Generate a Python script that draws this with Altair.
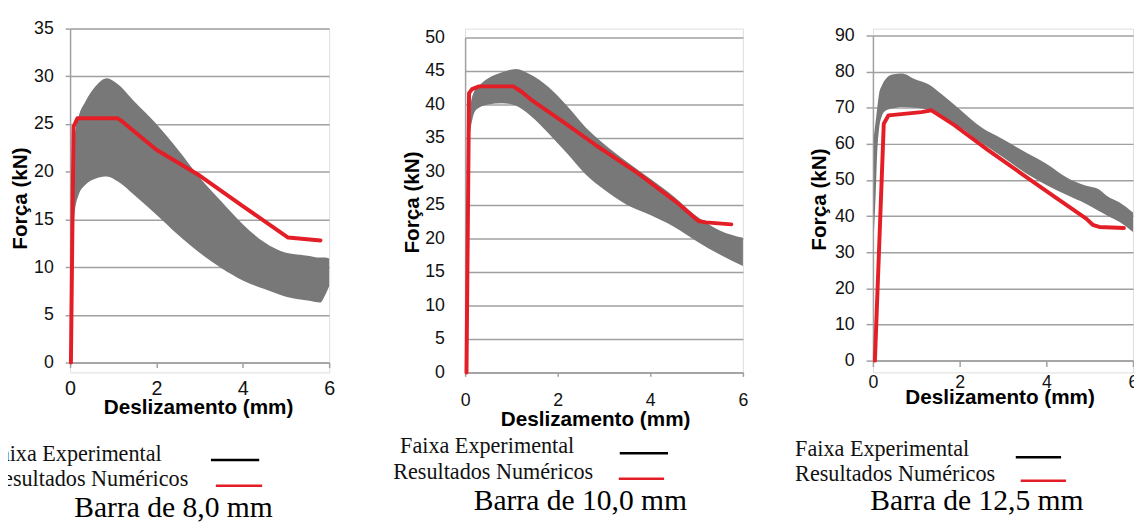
import altair as alt
import pandas as pd

# ---------------- data ----------------
x_ticks = [0, 2, 4, 6]
y_title = "Força (kN)"
x_title = "Deslizamento (mm)"
legend_labels = ["Faixa Experimental", "Resultados Numéricos"]
panel_titles = ["Barra de 8,0 mm", "Barra de 10,0 mm", "Barra de 12,5 mm"]
y_max = [35, 50, 90]
y_step = [5, 5, 10]

# Barra 8,0 mm
band1_x = [0.02, 0.05, 0.1, 0.2, 0.35, 0.6, 0.85, 1.1, 1.5, 2.0, 2.5, 3.0, 3.5, 4.0, 4.5, 5.0, 5.5, 5.8, 5.9, 6.0]
band1_lo = [3, 8, 15.5, 17.6, 18.6, 19.3, 19.5, 19.0, 17.5, 15.5, 13.4, 11.5, 9.9, 8.6, 7.7, 6.9, 6.5, 6.3, 7.0, 8.0]
band1_hi = [8, 18, 23.5, 25.8, 27.3, 29.0, 29.8, 29.2, 27.3, 25.0, 22.3, 19.4, 16.9, 14.5, 12.6, 11.5, 11.2, 11.0, 11.0, 10.9]
num1_x = [0.02, 0.08, 0.17, 1.1, 1.2, 2.0, 3.0, 4.0, 5.05, 5.8]
num1_y = [0, 24.7, 25.6, 25.6, 25.3, 22.3, 19.6, 16.4, 13.1, 12.8]

# Barra 10,0 mm
band2_x = [0.08, 0.12, 0.2, 0.3, 0.5, 0.8, 1.1, 1.4, 1.8, 2.2, 2.6, 3.0, 3.5, 4.0, 4.5, 5.0, 5.5, 6.0]
band2_lo = [35, 36.5, 38.8, 39.5, 40.0, 40.2, 39.8, 38.4, 35.7, 32.7, 29.6, 27.3, 25.0, 23.5, 21.8, 19.6, 17.6, 15.9]
band2_hi = [36, 40, 42, 42.8, 43.9, 44.8, 45.3, 44.5, 42.6, 39.8, 36.6, 34.1, 31.4, 28.9, 26.3, 23.3, 21.2, 20.1]
num2_x = [0.03, 0.085, 0.15, 0.3, 1.04, 1.22, 1.43, 2.14, 2.85, 3.7, 4.55, 5.04, 5.2, 5.75]
num2_y = [0, 41.7, 42.3, 42.7, 42.7, 41.9, 40.7, 37.3, 33.8, 29.9, 25.5, 22.6, 22.4, 22.1]

# Barra 12,5 mm
band3_x = [0.02, 0.06, 0.1, 0.14, 0.2, 0.29, 0.45, 0.67, 0.97, 1.28, 1.58, 2.0, 2.5, 3.0, 3.5, 4.0, 4.5, 4.9, 5.2, 5.4, 5.7, 6.0]
band3_lo = [35, 45, 58, 64, 67.5, 69.2, 69.8, 70.2, 70.0, 69.4, 67.2, 64.7, 60.3, 56.3, 52.1, 48.6, 45.7, 43.5, 41.5, 40.2, 38.3, 35.6]
band3_hi = [62, 66, 70, 73.8, 76, 77.9, 79.2, 79.5, 77.9, 76.5, 73.8, 69.6, 64.6, 61.3, 57.8, 54.5, 50.5, 48.5, 47.5, 45.6, 43.7, 41.0]
num3_x = [0.045, 0.25, 0.36, 1.12, 1.35, 1.88, 2.64, 3.4, 4.16, 4.92, 5.07, 5.22, 5.79]
num3_y = [0, 65.6, 67.9, 68.8, 69.3, 65.2, 58.4, 52.0, 45.6, 39.3, 37.6, 37.0, 36.7]

# ---------------- styles / layout ----------------
BAND = "#787878"
RED = "#e41e26"
GRID = "#a0a0a0"
SANS = "Liberation Sans"
SERIF = "Liberation Serif"
VIEW_H = 349  # common view height; each panel maps its y scale into a sub-range

layouts = [
    dict(W=263, L=90, R=10, T=16, yr=[339, 0], xoff=-10,
         ytick=5, ypad=12, ytx=-50, yty=172,
         xtick=5, xpad=27, xtx=130, xty=52, xfs=20,
         t1=dict(x=93, y=439, align="right"), t2=dict(x=120, y=464, align="right"),
         k=(143, 192, 438), r=(148, 195, 464), bt=(105, 496)),
    dict(W=282, L=126, R=10, T=16, yr=[349, 9], xoff=0,
         ytick=0, ypad=21, ytx=-53, yty=176,
         xtick=4, xpad=30, xtx=132, xty=54, xfs=18,
         t1=dict(x=-66, y=431, align="left"), t2=dict(x=-73, y=457, align="left"),
         k=(157, 206, 431), r=(156, 202, 457), bt=(117, 489)),
    dict(W=264, L=120, R=10, T=16, yr=[337, 7], xoff=-12,
         ytick=7, ypad=12, ytx=-54, yty=173,
         xtick=6, xpad=21, xtx=128.5, xty=44, xfs=18,
         t1=dict(x=-79, y=434, align="left"), t2=dict(x=-79, y=459, align="left"),
         k=(145, 191, 435), r=(150, 196, 459), bt=(105.5, 489)),
]


def one_row(v):
    return pd.DataFrame({"t": [v]})


def panel(bx, blo, bhi, nx, ny, ymax, ystep, title, lay):
    band_df = pd.DataFrame({"x": bx, "lo": blo, "hi": bhi})
    num_df = pd.DataFrame({"x": nx, "y": ny})
    xs = alt.Scale(domain=[0, 6], nice=False, zero=False)
    ys = alt.Scale(domain=[0, ymax], nice=False, range=lay["yr"])
    xaxis = alt.Axis(values=x_ticks, format="d", grid=False, domainColor=GRID, domainWidth=1.5,
                     tickColor=GRID, tickWidth=1.5, tickSize=lay["xtick"], offset=lay["xoff"],
                     labelPadding=lay["xpad"], labelBaseline="alphabetic", labelFontSize=lay["xfs"],
                     labelFont=SANS, labelColor="#111111", labelFlush=False,
                     title=x_title, titleX=lay["xtx"], titleY=lay["xty"], titleBaseline="alphabetic",
                     titleAlign="center", titleFont=SANS, titleFontSize=21, titleFontWeight="bold",
                     titleColor="#000000")
    yaxis = alt.Axis(values=list(range(0, ymax + 1, ystep)), format="d", grid=True, gridColor=GRID,
                     gridWidth=1.5, domainColor=GRID, domainWidth=1.5, tickColor=GRID, tickWidth=1.5,
                     tickSize=lay["ytick"], labelPadding=lay["ypad"], labelFontSize=18, labelFont=SANS,
                     labelColor="#111111", labelFlush=False,
                     title=y_title, titleX=lay["ytx"], titleY=lay["yty"], titleAngle=270,
                     titleBaseline="middle", titleAlign="center", titleFont=SANS, titleFontSize=21,
                     titleFontWeight="bold", titleColor="#000000")

    band = alt.Chart(band_df).mark_area(color=BAND, opacity=1, interpolate="monotone").encode(
        x=alt.X("x:Q", scale=xs, axis=xaxis),
        y=alt.Y("lo:Q", scale=ys, axis=yaxis),
        y2="hi:Q",
    )
    line = alt.Chart(num_df).mark_line(color=RED, strokeWidth=4, strokeJoin="round", strokeCap="round").encode(
        x=alt.X("x:Q", scale=xs, axis=xaxis),
        y=alt.Y("y:Q", scale=ys, axis=yaxis),
    )
    layers = [band, line]
    for lab, pos in zip(legend_labels, [lay["t1"], lay["t2"]]):
        layers.append(
            alt.Chart(one_row(lab)).mark_text(font=SERIF, fontSize=22.5, color="#111111",
                                              align=pos["align"], baseline="alphabetic").encode(
                text="t:N", x=alt.value(pos["x"]), y=alt.value(pos["y"]))
        )
    for (a, b, yy), col in zip([lay["k"], lay["r"]], ["#000000", RED]):
        layers.append(
            alt.Chart(one_row("")).mark_rule(color=col, strokeWidth=2.5).encode(
                x=alt.value(a), x2=alt.value(b), y=alt.value(yy))
        )
    layers.append(
        alt.Chart(one_row(title)).mark_text(font=SERIF, fontSize=30, color="#000000",
                                            align="center", baseline="alphabetic").encode(
            text="t:N", x=alt.value(lay["bt"][0]), y=alt.value(lay["bt"][1]))
    )
    # invisible frame fixing the panel's bounds
    layers.append(
        alt.Chart(one_row("")).mark_rule(opacity=0, strokeWidth=1).encode(
            x=alt.value(-lay["L"]), x2=alt.value(lay["W"] + lay["R"]), y=alt.value(-lay["T"]))
    )
    return alt.layer(*layers).properties(width=lay["W"], height=VIEW_H)


p1 = panel(band1_x, band1_lo, band1_hi, num1_x, num1_y, y_max[0], y_step[0], panel_titles[0], layouts[0])
p2 = panel(band2_x, band2_lo, band2_hi, num2_x, num2_y, y_max[1], y_step[1], panel_titles[1], layouts[1])
p3 = panel(band3_x, band3_lo, band3_hi, num3_x, num3_y, y_max[2], y_step[2], panel_titles[2], layouts[2])

chart = alt.hconcat(p1, p2, p3, spacing=0).properties(
    padding={"left": -28, "top": 0, "right": -10, "bottom": 0}
).configure_view(stroke=None).configure(background="#ffffff")

chart.save("out.html", embed_options={"renderer": "svg", "actions": False})
